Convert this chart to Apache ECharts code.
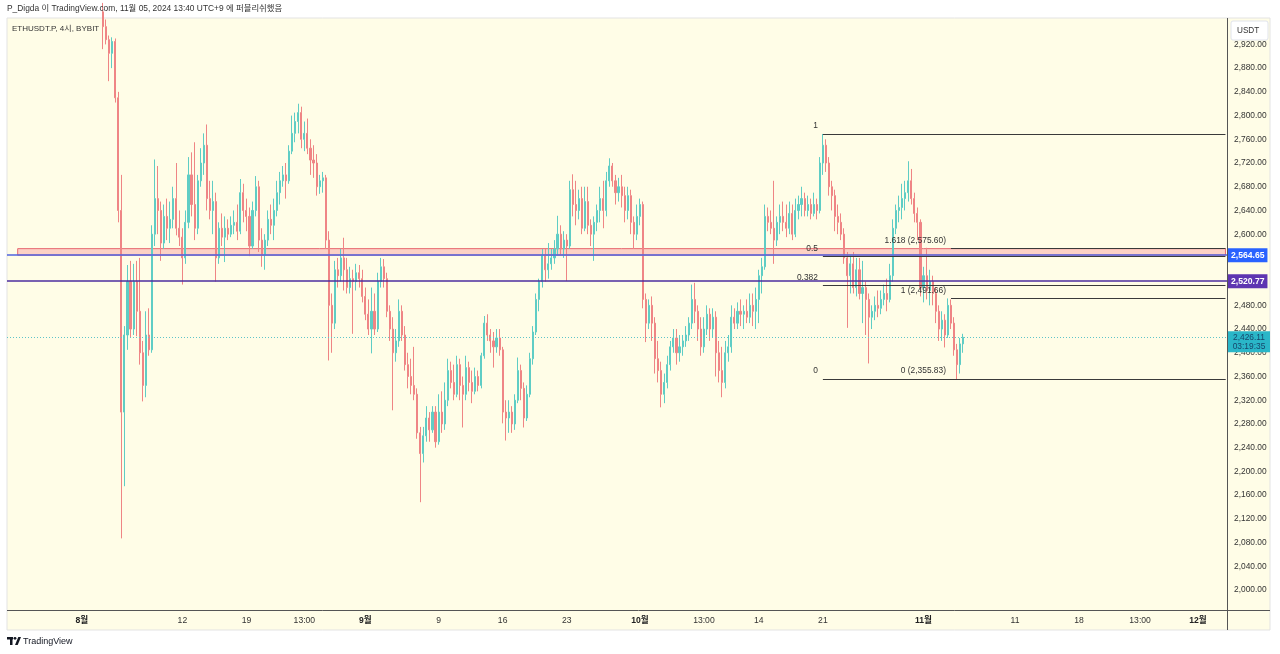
<!DOCTYPE html>
<html><head><meta charset="utf-8">
<script src="https://cdn.jsdelivr.net/npm/echarts@6/dist/echarts.min.js"></script>
<style>html,body{margin:0;padding:0;background:#fff}#c{width:1280px;height:654px}</style>
</head><body><div id="c"></div><script>
const FONT = '"Liberation Sans","Noto Sans CJK KR",sans-serif';

// ---- data ----
const barStartUTC = Date.UTC(2024, 6, 24, 0, 0);   // first category (8h bars)
const barCount = 400;
const firstBar = 31;                                 // index of first candle
// [open, close, low, high] per 8h bar
const candles = [
[2975,2950,2912,2990],[2950,2928,2920,2962],[2928,2905,2858,2935],[2905,2925,2880,2932],[2925,2830,2822,2930],
[2830,2640,2620,2840],[2640,2300,2087,2700],[2300,2430,2175,2445],[2430,2520,2405,2548],[2520,2440,2425,2555],
[2440,2520,2430,2550],[2520,2470,2428,2555],[2470,2400,2380,2560],[2400,2345,2318,2420],[2345,2430,2325,2470],
[2430,2405,2395,2475],[2405,2600,2400,2615],[2600,2660,2580,2726],[2660,2640,2600,2715],[2640,2585,2555,2655],
[2585,2630,2575,2650],[2630,2610,2590,2660],[2610,2625,2585,2655],[2625,2660,2610,2680],[2660,2610,2598,2720],
[2610,2595,2580,2640],[2595,2560,2515,2610],[2560,2620,2550,2640],[2620,2700,2610,2730],[2700,2650,2630,2738],
[2650,2610,2590,2755],[2610,2690,2600,2700],[2690,2720,2680,2745],[2720,2750,2700,2770],[2750,2660,2640,2785],
[2660,2640,2625,2690],[2640,2655,2600,2690],[2655,2560,2520,2670],[2560,2610,2550,2620],[2610,2595,2580,2635],
[2595,2610,2553,2630],[2610,2600,2590,2625],[2600,2615,2595,2630],[2615,2620,2600,2640],[2620,2605,2590,2650],
[2605,2670,2600,2693],[2670,2640,2620,2685],[2640,2630,2605,2660],[2630,2580,2563,2645],[2580,2640,2575,2655],
[2640,2680,2630,2698],[2680,2590,2570,2690],[2590,2565,2545,2610],[2565,2590,2540,2600],[2590,2625,2580,2640],
[2625,2615,2600,2650],[2615,2640,2590,2660],[2640,2670,2630,2690],[2670,2690,2650,2705],[2690,2700,2680,2715],
[2700,2690,2660,2720],[2690,2740,2685,2750],[2740,2770,2735,2800],[2770,2790,2755,2805],[2790,2805,2770,2820],
[2805,2760,2745,2815],[2760,2770,2740,2790],[2770,2745,2735,2795],[2745,2725,2700,2760],[2725,2720,2695,2750],
[2720,2680,2665,2735],[2680,2690,2668,2700],[2690,2695,2670,2705],[2695,2590,2575,2700],[2590,2480,2387,2605],
[2480,2450,2400,2500],[2450,2540,2440,2555],[2540,2530,2510,2560],[2530,2560,2520,2575],[2560,2540,2505,2594],
[2540,2510,2500,2560],[2510,2525,2500,2545],[2525,2520,2432,2540],[2520,2535,2505,2550],[2535,2525,2510,2548],
[2525,2495,2485,2540],[2495,2465,2455,2510],[2465,2440,2430,2490],[2440,2470,2399,2510],[2470,2440,2430,2500],
[2440,2520,2435,2535],[2520,2545,2510,2560],[2545,2525,2510,2558],[2525,2470,2460,2535],[2470,2440,2420,2480],
[2440,2400,2303,2460],[2400,2420,2385,2440],[2420,2470,2410,2490],[2470,2430,2420,2480],[2430,2380,2370,2445],
[2380,2360,2340,2400],[2360,2345,2330,2390],[2345,2330,2320,2410],[2330,2265,2255,2340],[2265,2230,2148,2275],
[2230,2260,2215,2275],[2260,2290,2250,2310],[2290,2270,2250,2300],[2270,2300,2265,2310],[2300,2250,2240,2310],
[2250,2300,2245,2330],[2300,2280,2265,2335],[2280,2320,2270,2350],[2320,2370,2310,2390],[2370,2350,2340,2385],
[2350,2330,2320,2380],[2330,2380,2325,2395],[2380,2345,2320,2390],[2345,2330,2274,2360],[2330,2375,2320,2395],
[2375,2350,2335,2385],[2350,2335,2315,2370],[2335,2360,2330,2375],[2360,2345,2335,2370],[2345,2395,2340,2400],
[2395,2450,2390,2462],[2450,2430,2420,2465],[2430,2420,2400,2440],[2420,2410,2375,2435],[2410,2425,2400,2440],
[2425,2405,2395,2440],[2405,2300,2281,2410],[2300,2290,2252,2320],[2290,2300,2265,2320],[2300,2280,2265,2310],
[2280,2320,2270,2330],[2320,2370,2315,2392],[2370,2340,2320,2380],[2340,2290,2274,2350],[2290,2330,2285,2345],
[2330,2390,2325,2400],[2390,2435,2380,2445],[2435,2490,2430,2500],[2490,2520,2470,2525],[2520,2565,2510,2575],
[2565,2540,2520,2575],[2540,2550,2525,2585],[2550,2560,2540,2575],[2560,2575,2550,2590],[2575,2600,2565,2631],
[2600,2575,2565,2615],[2575,2590,2560,2605],[2590,2580,2521,2600],[2580,2675,2575,2690],[2675,2650,2630,2701],
[2650,2640,2615,2690],[2640,2660,2625,2675],[2660,2610,2600,2680],[2610,2655,2605,2680],[2655,2615,2600,2680],
[2615,2600,2580,2625],[2600,2620,2555,2630],[2620,2640,2605,2650],[2640,2660,2620,2680],[2660,2640,2610,2690],
[2640,2690,2630,2705],[2690,2715,2680,2728],[2715,2690,2680,2720],[2690,2670,2650,2700],[2670,2680,2655,2695],
[2680,2665,2645,2700],[2665,2640,2620,2680],[2640,2665,2625,2680],[2665,2620,2600,2675],[2620,2600,2575,2630],
[2600,2630,2590,2650],[2630,2650,2615,2660],[2650,2490,2475,2655],[2490,2450,2418,2500],[2450,2480,2440,2490],
[2480,2450,2420,2495],[2450,2390,2365,2460],[2390,2370,2350,2420],[2370,2330,2308,2385],[2330,2350,2315,2365],
[2350,2380,2340,2395],[2380,2410,2370,2420],[2410,2425,2400,2440],[2425,2400,2380,2440],[2400,2410,2385,2430],
[2410,2420,2395,2430],[2420,2430,2410,2445],[2430,2450,2420,2460],[2450,2490,2440,2515],[2490,2470,2450,2518],
[2470,2440,2420,2480],[2440,2410,2395,2460],[2410,2440,2400,2460],[2440,2465,2430,2480],[2465,2440,2420,2475],
[2440,2460,2425,2475],[2460,2400,2360,2470],[2400,2370,2350,2420],[2370,2350,2325,2410],[2350,2400,2340,2420],
[2400,2410,2385,2430],[2410,2460,2400,2480],[2460,2450,2440,2475],[2450,2470,2440,2485],[2470,2465,2445,2490],
[2465,2470,2440,2480],[2470,2460,2450,2490],[2460,2480,2450,2500],[2480,2470,2445,2500],[2470,2490,2440,2510],
[2490,2530,2450,2540],[2530,2545,2500,2560],[2545,2630,2540,2650],[2630,2620,2605,2645],[2620,2610,2600,2640],
[2610,2590,2550,2690],[2590,2620,2580,2630],[2620,2630,2600,2650],[2630,2620,2605,2655],[2620,2610,2595,2650],
[2610,2635,2600,2655],[2635,2600,2590,2650],[2600,2640,2595,2660],[2640,2650,2625,2665],[2650,2660,2630,2680],
[2660,2640,2630,2670],[2640,2650,2630,2665],[2650,2635,2625,2660],[2635,2650,2630,2670],[2650,2640,2625,2660],
[2640,2720,2635,2730],[2720,2750,2700,2769],[2750,2720,2705,2760],[2720,2680,2665,2730],[2680,2665,2640,2690],
[2665,2630,2605,2675],[2630,2620,2600,2650],[2620,2600,2590,2635],[2600,2560,2550,2610],[2560,2530,2442,2570],
[2530,2550,2500,2565],[2550,2510,2500,2570],[2510,2540,2495,2560],[2540,2500,2490,2560],[2500,2510,2450,2555],
[2510,2490,2430,2520],[2490,2460,2382,2500],[2460,2470,2440,2480],[2470,2480,2455,2495],[2480,2475,2460,2505],
[2475,2490,2465,2505],[2490,2500,2480,2515],[2500,2490,2470,2525],[2490,2530,2485,2550],[2530,2610,2520,2625],
[2610,2640,2600,2650],[2640,2645,2620,2665],[2645,2660,2625,2685],[2660,2670,2640,2690],[2670,2690,2655,2723],
[2690,2660,2650,2710],[2660,2635,2620,2670],[2635,2620,2590,2645],[2620,2510,2495,2625],[2510,2530,2485,2545],
[2530,2505,2490,2577],[2505,2520,2480,2540],[2520,2500,2480,2530],[2500,2470,2450,2510],[2470,2440,2420,2480],
[2440,2455,2420,2470],[2455,2430,2409,2465],[2430,2480,2425,2491.66],[2480,2450,2440,2490],[2450,2405,2395,2460],
[2405,2380,2355.83,2415],[2380,2415,2365,2425],[2415,2426.11,2400,2432]
];
const tickIndex = [24, 57, 78, 97, 117, 141, 162, 183, 207, 228, 246, 267, 300, 330, 351, 371, 390];
const tickText  = ['8월','12','19','13:00','9월','9','16','23','10월','13:00','14','21','11월','11','18','13:00','12월'];
const monthLabels = ['8월','9월','10월','11월','12월'];
const priceMin = 1960, priceMax = 2960, priceStep = 40, labelMin = 2000, labelMax = 2920;

const zoneLow = 2564.65, zoneHigh = 2575.60, zoneStart = 3;
const blueLevel = 2564.65, blueText = '2,564.65';
const purpleLevel = 2520.77, purpleText = '2,520.77';
const lastPrice = 2426.11, lastText = '2,426.11', countdown = '03:19:35';
const fibStart = 267, fibHigh = 2769, fibLow = 2355.83;
const fibRatios = [1, 0.5, 0.382, 0];
const fibLabels = ['1', '0.5', '0.382', '0'];
const extStart = 309;
const extLevels = [2575.60, 2491.66, 2355.83];
const extLabels = ['1.618 (2,575.60)', '1 (2,491.66)', '0 (2,355.83)'];

// ---- build ----
const categories = Array.from({length: barCount}, (_, i) =>
  new Date(barStartUTC + i * 8 * 3600e3).toISOString().slice(0, 16).replace('T', ' '));
const seriesData = candles.map((c, k) => [firstBar + k, c[0], c[1], c[2], c[3]]);
const lastCat = barCount - 1;

const segments = [];   // [startIndex, value, label]
fibRatios.forEach((r, k) => segments.push([fibStart, fibLow + (fibHigh - fibLow) * r, fibLabels[k]]));
extLevels.forEach((v, k) => segments.push([extStart, v, extLabels[k]]));

const markLines = segments.map(s => [
  {coord: [s[0], s[1]], lineStyle: {color: '#3a3a3a', width: 1, type: 'solid'}},
  {coord: [lastCat, s[1]]}
]);
const tag = (bg, color) => ({show: true, position: 'end', distance: 1, backgroundColor: bg, color: color,
  padding: [2, 3, 2, 3], fontSize: 8.6, fontWeight: 'bold', fontFamily: FONT, lineHeight: 10});
markLines.push({yAxis: blueLevel, lineStyle: {color: '#4f63df', width: 1.6, type: 'solid'},
  label: Object.assign(tag('#2962ff', '#fff'), {formatter: blueText})});
markLines.push({yAxis: purpleLevel, lineStyle: {color: '#4b2c9f', width: 1.6, type: 'solid'},
  label: Object.assign(tag('#5e35b1', '#fff'), {formatter: purpleText})});
markLines.push({yAxis: lastPrice, lineStyle: {color: '#5fc4c9', width: 1, type: [1, 2]}, label: {show: false}});

const chart = echarts.init(document.getElementById('c'), null, {renderer: 'canvas'});
chart.setOption({
  animation: false,
  backgroundColor: '#ffffff',
  grid: {left: 7, right: 53, top: 20.7, bottom: 40.3, containLabel: false},
  xAxis: {
    type: 'category', data: categories, boundaryGap: true,
    axisLine: {show: false}, axisTick: {show: false}, splitLine: {show: false},
    axisLabel: {
      interval: (idx) => tickIndex.includes(idx),
      formatter: (val, idx) => {
        const t = tickText[tickIndex.indexOf(idx)];
        return monthLabels.includes(t) ? '{m|' + t + '}' : t;
      },
      margin: 3, fontSize: 8.6, color: '#333', fontFamily: FONT,
      rich: {m: {fontWeight: 'bold', fontSize: 8.6, color: '#222', fontFamily: FONT}}
    }
  },
  yAxis: {
    type: 'value', position: 'right', min: priceMin, max: priceMax, interval: priceStep,
    axisLine: {show: false}, axisTick: {show: false}, splitLine: {show: false},
    axisLabel: {
      margin: 7, fontSize: 8.4, color: '#333', fontFamily: FONT,
      formatter: (v) => (v < labelMin || v > labelMax) ? '' :
        v.toLocaleString('en-US', {minimumFractionDigits: 2, maximumFractionDigits: 2})
    }
  },
  series: [{
    type: 'candlestick', clip: true, barWidth: 1.6,
    encode: {x: 0, y: [1, 2, 3, 4]},
    data: seriesData,
    itemStyle: {color: '#5fcdc5', color0: '#ef8585', borderColor: '#5fcdc5', borderColor0: '#ef8585', borderWidth: 1},
    markArea: {
      silent: true,
      itemStyle: {color: 'rgba(242,80,95,0.25)', borderColor: 'rgba(225,70,85,0.8)', borderWidth: 1},
      data: [[{xAxis: zoneStart, yAxis: zoneHigh}, {xAxis: lastCat, yAxis: zoneLow}]]
    },
    markLine: {silent: true, symbol: ['none', 'none'], animation: false, label: {show: false}, data: markLines}
  }]
});

// ---- overlay texts placed through the chart's own scales ----
const px = (i) => chart.convertToPixel({xAxisIndex: 0}, i);
const py = (v) => chart.convertToPixel({yAxisIndex: 0}, v);
const gfx = [
  {type: 'rect', z: -100, silent: true, shape: {x: 7, y: 18, width: 1263, height: 612},
   style: {fill: '#fffde7', stroke: '#e3e3e3', lineWidth: 1}},
  {type: 'line', z: 50, silent: true, shape: {x1: 7, y1: 610.5, x2: 1270, y2: 610.5},
   style: {stroke: '#555', lineWidth: 1}},
  {type: 'line', z: 50, silent: true, shape: {x1: 1227.5, y1: 18, x2: 1227.5, y2: 630},
   style: {stroke: '#555', lineWidth: 1}},
  {type: 'rect', z: 60, silent: true, shape: {x: 1231, y: 21, width: 37, height: 19, r: 2},
   style: {fill: '#ffffff', stroke: '#e0e3eb', lineWidth: 1}},
  {type: 'text', z: 61, silent: true, style: {x: 1237, y: 30.5, text: 'USDT', fontSize: 8.2, fill: '#333',
   fontFamily: FONT, verticalAlign: 'middle'}},
  {type: 'text', z: 61, silent: true, style: {x: 7, y: 9, text: 'P_Digda 이 TradingView.com, 11월 05, 2024 13:40 UTC+9 에 퍼블리쉬했음',
   fontSize: 8.4, fill: '#333', fontFamily: FONT, verticalAlign: 'middle'}},
  {type: 'text', z: 61, silent: true, style: {x: 12, y: 29, text: 'ETHUSDT.P, 4시, BYBIT',
   fontSize: 8, fill: '#333', fontFamily: FONT, verticalAlign: 'middle'}},
  {type: 'rect', z: 61, silent: true, shape: {x: 7, y: 637, width: 6, height: 2.5}, style: {fill: '#131722'}},
  {type: 'rect', z: 61, silent: true, shape: {x: 10, y: 637, width: 2.5, height: 8}, style: {fill: '#131722'}},
  {type: 'circle', z: 61, silent: true, shape: {cx: 15, cy: 638.3, r: 1.4}, style: {fill: '#131722'}},
  {type: 'polygon', z: 61, silent: true, shape: {points: [[15, 645], [18.3, 637], [21, 637], [17.7, 645]]}, style: {fill: '#131722'}},
  {type: 'text', z: 61, silent: true, style: {x: 23, y: 641.5, text: 'TradingView', fontSize: 9, fill: '#131722',
   fontFamily: FONT, verticalAlign: 'middle'}}
];
segments.forEach(s => {
  gfx.push({type: 'text', z: 62, silent: true, style: {
    x: px(s[0]) - 5, y: py(s[1]) - 8, text: s[2], fontSize: 8.4, fill: '#333', fontFamily: FONT,
    align: 'right', verticalAlign: 'middle'}});
});
const ly = py(lastPrice);
gfx.push({type: 'rect', z: 70, silent: true, shape: {x: 1228, y: ly - 6, width: 42, height: 21},
  style: {fill: '#2ab6c8'}});
gfx.push({type: 'text', z: 71, silent: true, style: {x: 1249, y: ly, text: lastText, fontSize: 8.4,
  fill: '#17466b', fontFamily: FONT, align: 'center', verticalAlign: 'middle'}});
gfx.push({type: 'text', z: 71, silent: true, style: {x: 1249, y: ly + 9, text: countdown, fontSize: 8.4,
  fill: '#17466b', fontFamily: FONT, align: 'center', verticalAlign: 'middle'}});
chart.setOption({graphic: gfx});
</script></body></html>
